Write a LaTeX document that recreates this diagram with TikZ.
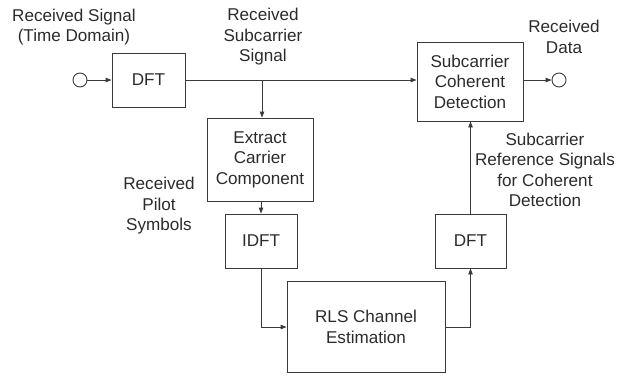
\documentclass[tikz,border=0pt]{standalone}
\usepackage{fontspec}
\setmainfont{Liberation Sans}
\usetikzlibrary{arrows.meta}
\definecolor{ink}{HTML}{2B2B2B}
\definecolor{wire}{HTML}{3A3A3A}
\begin{document}
\begin{tikzpicture}[x=1pt,y=-1pt,
  every node/.style={text=ink, font=\fontsize{17.1}{20.5}\selectfont, align=center},
  blk/.style={draw=wire, line width=0.9pt, inner sep=0pt},
  port/.style={draw=wire, line width=0.9pt, circle, minimum size=14pt, inner sep=0pt},
  conn/.style={draw=wire, line width=0.9pt},
  flow/.style={conn, -{Triangle[length=6pt,width=4.5pt]}},
  lbl/.style={inner sep=0pt}]
\useasboundingbox (0,0) rectangle (617,376);

% processing blocks
\node[blk, minimum width=73pt, minimum height=54pt] (dft1) at (148.5,80) {DFT};
\node[blk, minimum width=106pt, minimum height=79pt] (scd) at (470,81.5) {Subcarrier\\Coherent\\Detection};
\node[blk, minimum width=106pt, minimum height=83pt] (ecc) at (260,159.5) {Extract\\Carrier\\Component};
\node[blk, minimum width=72pt, minimum height=54pt] (idft) at (261,241) {IDFT};
\node[blk, minimum width=71pt, minimum height=54pt] (dft2) at (470.5,241) {DFT};
\node[blk, minimum width=158pt, minimum height=91pt] (rls) at (366,327) {RLS Channel\\Estimation};

% input and output terminals
\node[port] (pin) at (80,80) {};
\node[port] (pout) at (559,80) {};

% labels
\node[lbl] (lin) at (74,27) {Received Signal\\(Time Domain)};
\node[lbl] (lsub) at (263,37) {Received\\Subcarrier\\Signal};
\node[lbl] (ldata) at (564,37) {Received\\Data};
\node[lbl] (lref) at (545,170) {Subcarrier\\Reference Signals\\for Coherent\\Detection};
\node[lbl] (lpilot) at (159,206) {Received\\Pilot\\Symbols};

% signal paths
\coordinate (br) at (262,80);
\draw[flow] (pin) -- (dft1);
\draw[flow] (dft1.east) -- (dft1.east -| scd.west);
\draw[flow] (br) -- (br |- ecc.north);
\draw[flow] (ecc.south -| idft.north) -- (idft.north);
\draw[flow] (idft.south) |- (rls.west);
\draw[flow] (rls.east) -| (dft2.south);
\draw[flow] (dft2.north) -- (dft2.north |- scd.south);
\draw[flow] (scd.east |- pout) -- (pout);
\end{tikzpicture}
\end{document}
